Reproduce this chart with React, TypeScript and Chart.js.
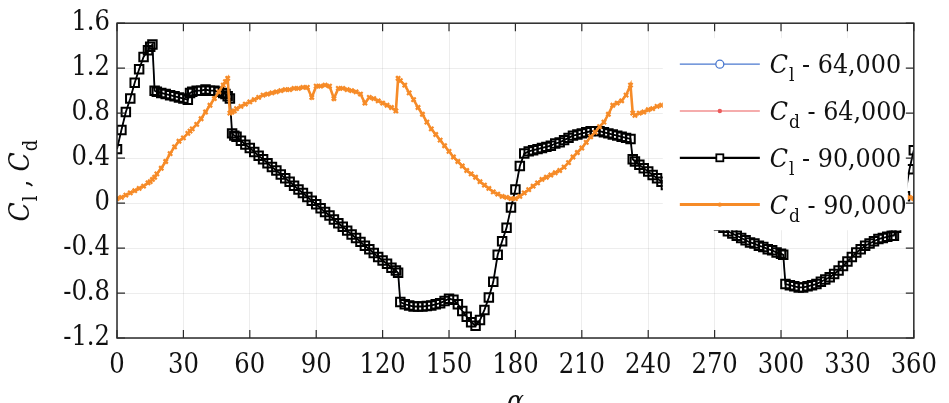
import React, { useEffect, useRef } from 'react';
import { Chart, registerables } from 'chart.js';

Chart.register(...registerables);

const FONT = '"DejaVu Serif Condensed", "DejaVu Serif", serif';

// angle of attack (deg)
const alpha = [
  0, 2, 4, 6, 8, 10, 12, 14, 15, 16, 17, 18, 20, 22, 24, 26, 28, 30, 32, 33, 34, 36, 38, 40, 42, 44, 46, 48, 49, 50, 51, 52, 53, 54,
  56, 58, 60, 62, 64, 66, 68, 70, 72, 74, 76, 78, 80, 82, 84, 86, 88, 90, 92, 94, 96, 98, 100, 102, 104, 106, 108, 110, 112, 114,
  116, 118, 120, 122, 124, 126, 127, 128, 130, 132, 134, 136, 138, 140, 142, 144, 146, 148, 150, 152, 154, 156, 158, 160, 162,
  164, 166, 168, 170, 172, 174, 176, 178, 180, 182, 184, 186, 188, 190, 192, 194, 196, 198, 200, 202, 204, 206, 208, 210, 212,
  214, 216, 218, 220, 222, 224, 226, 228, 230, 232, 233, 234, 236, 238, 240, 242, 244, 246, 248, 250, 252, 254, 256, 258, 260,
  262, 264, 266, 268, 270, 272, 274, 276, 278, 280, 282, 284, 286, 288, 290, 292, 294, 296, 298, 300, 301, 302, 304, 306, 308,
  310, 312, 314, 316, 318, 320, 322, 324, 326, 328, 330, 332, 334, 336, 338, 340, 342, 344, 346, 348, 350, 351, 352, 354, 356,
  358, 360,
];

// lift coefficient, Re = 90,000
const cl90 = [
  0.48, 0.65, 0.81, 0.93, 1.07, 1.19, 1.30, 1.36, 1.39, 1.41, 1.00, 0.99, 0.98, 0.97, 0.96, 0.95, 0.94, 0.93, 0.92, 0.98, 0.99,
  1.00, 1.00, 1.01, 1.00, 1.00, 0.99, 0.98, 0.97, 0.95, 0.93, 0.62, 0.60, 0.59,
  0.555, 0.52, 0.49, 0.455, 0.42, 0.39, 0.355, 0.32, 0.29, 0.255, 0.22, 0.19, 0.155, 0.12, 0.09, 0.055, 0.02, -0.01, -0.045,
  -0.08, -0.11, -0.145, -0.18, -0.21, -0.245, -0.28, -0.31, -0.345, -0.38, -0.41,
  -0.445, -0.48, -0.51, -0.54, -0.575, -0.60, -0.62, -0.88, -0.90, -0.91, -0.92, -0.92, -0.92, -0.915, -0.91, -0.90, -0.89,
  -0.87, -0.85, -0.86, -0.90, -0.96, -1.01, -1.06, -1.09,
  -1.04, -0.95, -0.84, -0.70, -0.46, -0.34, -0.22, -0.04, 0.12, 0.33, 0.44, 0.46, 0.47, 0.48, 0.49, 0.50, 0.51, 0.53, 0.54,
  0.56, 0.58, 0.60, 0.61, 0.62, 0.63,
  0.64, 0.64, 0.64, 0.63, 0.62, 0.61, 0.60, 0.59, 0.58, 0.57, 0.39, 0.37, 0.34, 0.31, 0.28, 0.25, 0.22, 0.19, 0.16, 0.13, 0.10,
  0.07, 0.04, 0.01, -0.02,
  -0.05, -0.08, -0.11, -0.14, -0.17, -0.20, -0.22, -0.25, -0.27, -0.29, -0.31, -0.33, -0.35, -0.36, -0.38, -0.39, -0.41, -0.42,
  -0.44, -0.45, -0.46, -0.72, -0.73, -0.74, -0.75,
  -0.75, -0.74, -0.73, -0.72, -0.70, -0.68, -0.66, -0.63, -0.60, -0.56, -0.52, -0.48, -0.44, -0.41, -0.38, -0.36, -0.34, -0.32,
  -0.31, -0.30, -0.29, -0.29, -0.22, -0.08, 0.06,
  0.30, 0.47,
];

// drag coefficient, Re = 90,000
const cd90 = [
  0.04, 0.05, 0.07, 0.09, 0.11, 0.13, 0.15, 0.18, 0.19, 0.21, 0.23, 0.26, 0.31, 0.37, 0.44, 0.50, 0.55, 0.58, 0.62, 0.64, 0.66,
  0.70, 0.75, 0.81, 0.87, 0.93, 0.99, 1.05, 1.08, 1.11, 0.80, 0.81, 0.82, 0.84,
  0.86, 0.88, 0.90, 0.92, 0.94, 0.96, 0.97, 0.98, 0.99, 1.00, 1.01, 1.01, 1.02, 1.02, 1.03, 1.03, 0.94, 1.04, 1.04, 1.05, 1.04,
  0.93, 1.02, 1.02, 1.01, 1.00, 0.99, 0.97, 0.89, 0.94,
  0.93, 0.91, 0.89, 0.87, 0.85, 0.82, 1.11, 1.09, 1.05, 0.98, 0.92, 0.85, 0.79, 0.72, 0.66, 0.61, 0.56, 0.51, 0.46, 0.41, 0.37,
  0.33, 0.29, 0.26, 0.23,
  0.19, 0.16, 0.13, 0.10, 0.08, 0.06, 0.05, 0.04, 0.04, 0.06, 0.09, 0.12, 0.15, 0.18, 0.21, 0.23, 0.25, 0.27, 0.29, 0.32, 0.36,
  0.41, 0.45, 0.49, 0.54,
  0.59, 0.63, 0.68, 0.72, 0.79, 0.87, 0.89, 0.91, 0.96, 1.05, 0.80, 0.78, 0.80, 0.81, 0.83, 0.84, 0.86, 0.87, 0.88, 0.89, 0.90,
  0.91, 0.92, 0.93, 0.94,
  0.95, 0.96, 0.97, 0.98, 0.99, 1.00, 1.00, 1.01, 1.01, 1.02, 1.02, 1.02, 1.02, 1.01, 1.01, 1.00, 0.99, 0.98, 0.97, 0.96, 0.95,
  1.08, 1.04, 0.99, 0.93,
  0.87, 0.81, 0.76, 0.71, 0.66, 0.62, 0.57, 0.53, 0.49, 0.45, 0.41, 0.37, 0.34, 0.30, 0.27, 0.24, 0.21, 0.18, 0.16, 0.14, 0.12,
  0.11, 0.10, 0.08, 0.06,
  0.05, 0.04,
];

// Re = 64,000 curves coincide with (and are hidden under) the 90,000 curves
const cl64 = cl90;
const cd64 = cd90;

const xTicks = { min: 0, max: 360, step: 30 };
const yTicks = { min: -1.2, max: 1.6, step: 0.4 };

const legendItems = [
  { sym: 'C', sub: 'l', label: ' - 64,000', color: '#4A78CF', marker: 'circle', width: 1.2 },
  { sym: 'C', sub: 'd', label: ' - 64,000', color: '#EC5B5B', marker: 'dot', width: 1.2 },
  { sym: 'C', sub: 'l', label: ' - 90,000', color: '#000000', marker: 'rect', width: 2.2 },
  { sym: 'C', sub: 'd', label: ' - 90,000', color: '#F68B28', marker: 'dot', width: 3 },
];

const pts = (ys: number[]) => alpha.map((a, i) => ({ x: a, y: ys[i] }));

function drawMarker(ctx: CanvasRenderingContext2D, kind: string, x: number, y: number, color: string) {
  ctx.save();
  ctx.strokeStyle = color;
  ctx.fillStyle = color;
  if (kind === 'circle') {
    ctx.lineWidth = 1.3;
    ctx.fillStyle = '#fff';
    ctx.beginPath();
    ctx.arc(x, y, 4, 0, Math.PI * 2);
    ctx.fill();
    ctx.stroke();
  } else if (kind === 'rect') {
    ctx.lineWidth = 1.8;
    ctx.fillStyle = '#fff';
    ctx.fillRect(x - 3.5, y - 3.5, 7, 7);
    ctx.strokeRect(x - 3.5, y - 3.5, 7, 7);
  } else {
    ctx.beginPath();
    ctx.arc(x, y, 2.2, 0, Math.PI * 2);
    ctx.fill();
  }
  ctx.restore();
}

function drawSubText(ctx: CanvasRenderingContext2D, x: number, y: number, sym: string, sub: string, rest: string, size: number) {
  ctx.textBaseline = 'alphabetic';
  ctx.textAlign = 'left';
  ctx.font = `italic ${size}px ${FONT}`;
  ctx.fillText(sym, x, y);
  x += ctx.measureText(sym).width + 1;
  const subSize = Math.round(size * 0.72);
  ctx.font = `${subSize}px ${FONT}`;
  ctx.fillText(sub, x, y + size * 0.3);
  x += ctx.measureText(sub).width;
  if (rest) {
    ctx.font = `${size}px ${FONT}`;
    ctx.fillText(rest, x, y);
    x += ctx.measureText(rest).width;
  }
  return x;
}

const decorPlugin = {
  id: 'decor',
  afterDatasetsDraw(chart: any) {
    const { ctx, chartArea } = chart;
    const left = chartArea.right - 251;
    const right = chartArea.right - 6;
    const top = chartArea.top + 15;
    const bottom = chartArea.top + 207;
    ctx.save();
    ctx.fillStyle = '#ffffff';
    ctx.fillRect(left, top, right - left, bottom - top);
    const rowH = 46.8;
    legendItems.forEach((it, i) => {
      const cy = top + 26 + i * rowH;
      const x0 = left + 17;
      const x1 = x0 + 80;
      ctx.strokeStyle = it.color;
      ctx.lineWidth = it.width;
      ctx.beginPath();
      ctx.moveTo(x0, cy);
      ctx.lineTo(x1, cy);
      ctx.stroke();
      drawMarker(ctx, it.marker, (x0 + x1) / 2, cy, it.color);
      ctx.fillStyle = '#111';
      drawSubText(ctx, x1 + 10, cy + 9, it.sym, it.sub, it.label, 26.5);
    });
    ctx.restore();
  },
  afterDraw(chart: any) {
    const { ctx, chartArea, scales } = chart;
    const xs = scales.x;
    const ys = scales.y;
    ctx.save();
    ctx.strokeStyle = '#2a2a2a';
    ctx.lineWidth = 1.5;
    ctx.strokeRect(chartArea.left, chartArea.top, chartArea.right - chartArea.left, chartArea.bottom - chartArea.top);
    const tl = 8;
    ctx.lineWidth = 1.2;
    ctx.beginPath();
    xs.ticks.forEach((t: any) => {
      const px = xs.getPixelForValue(t.value);
      ctx.moveTo(px, chartArea.bottom);
      ctx.lineTo(px, chartArea.bottom - tl);
      ctx.moveTo(px, chartArea.top);
      ctx.lineTo(px, chartArea.top + tl);
    });
    ys.ticks.forEach((t: any) => {
      const py = ys.getPixelForValue(t.value);
      ctx.moveTo(chartArea.left, py);
      ctx.lineTo(chartArea.left + tl, py);
      ctx.moveTo(chartArea.right, py);
      ctx.lineTo(chartArea.right - tl, py);
    });
    ctx.stroke();

    // y-axis title: C_l , C_d (rotated)
    ctx.fillStyle = '#111';
    ctx.translate(29, (chartArea.top + chartArea.bottom) / 2);
    ctx.rotate(-Math.PI / 2);
    ctx.font = `italic 28px ${FONT}`;
    const w1 = ctx.measureText('C').width;
    ctx.font = `20px ${FONT}`;
    const w2 = ctx.measureText('l').width + ctx.measureText('d').width;
    ctx.font = `28px ${FONT}`;
    const w3 = ctx.measureText(' , ').width;
    const total = 2 * (w1 + 1) + w2 + w3;
    let x = -total / 2;
    x = drawSubText(ctx, x, 0, 'C', 'l', ' , ', 28);
    drawSubText(ctx, x, 0, 'C', 'd', '', 28);
    ctx.setTransform(1, 0, 0, 1, 0, 0);

    // x-axis title
    ctx.font = `italic 28px ${FONT}`;
    ctx.textAlign = 'center';
    ctx.textBaseline = 'alphabetic';
    ctx.fillText('\u03b1', (chartArea.left + chartArea.right) / 2, chartArea.bottom + 72);
    ctx.restore();
  },
};

export default function App() {
  const ref = useRef<HTMLCanvasElement>(null);
  useEffect(() => {
    if (!ref.current) return;
    const chart = new Chart(ref.current, {
      type: 'line',
      data: {
        datasets: [
          {
            label: 'Cl - 64,000',
            data: pts(cl64),
            borderColor: '#4A78CF',
            borderWidth: 1,
            pointRadius: 0,
            order: 3,
          },
          {
            label: 'Cd - 64,000',
            data: pts(cd64),
            borderColor: '#EC5B5B',
            borderWidth: 1,
            pointRadius: 0,
            order: 2,
          },
          {
            label: 'Cl - 90,000',
            data: pts(cl90),
            borderColor: '#000000',
            borderWidth: 1.8,
            pointStyle: 'rect',
            pointRadius: 6,
            pointBorderWidth: 2,
            pointBorderColor: '#000000',
            pointBackgroundColor: 'rgba(0,0,0,0)',
            order: 1,
          },
          {
            label: 'Cd - 90,000',
            data: pts(cd90),
            borderColor: '#F68B28',
            borderWidth: 2.6,
            pointStyle: 'crossRot',
            pointRadius: 3,
            pointBorderWidth: 2.2,
            pointBorderColor: '#F68B28',
            pointBackgroundColor: '#F68B28',
            order: 0,
          },
        ],
      },
      options: {
        responsive: false,
        animation: false,
        devicePixelRatio: 1,
        layout: { padding: { left: 0, right: 27, top: 21, bottom: 0 } },
        plugins: { legend: { display: false }, tooltip: { enabled: false } },
        scales: {
          x: {
            type: 'linear',
            min: xTicks.min,
            max: xTicks.max,
            ticks: {
              stepSize: xTicks.step,
              autoSkip: false,
              maxRotation: 0,
              padding: 12,
              color: '#111',
              font: { family: FONT, size: 27 },
            },
            grid: { color: 'rgba(0,0,0,0.07)', drawTicks: false, lineWidth: 1 },
            border: { display: false },
            afterFit: (s: any) => {
              s.height = 65;
            },
          },
          y: {
            min: yTicks.min,
            max: yTicks.max,
            ticks: {
              stepSize: yTicks.step,
              padding: 7,
              color: '#111',
              font: { family: FONT, size: 27 },
              callback: (v: any) => (Math.abs(Number(v)) < 1e-9 ? '0' : Number(v).toFixed(1)),
            },
            grid: { color: 'rgba(0,0,0,0.07)', drawTicks: false, lineWidth: 1 },
            border: { display: false },
            afterFit: (s: any) => {
              s.width = 117;
            },
          },
        },
      },
      plugins: [decorPlugin],
    });
    return () => chart.destroy();
  }, []);
  return (
    <div style={{ position: 'fixed', left: 0, top: 0, width: 949, height: 403, background: '#fff' }}>
      <canvas ref={ref} width={949} height={403} style={{ display: 'block' }} />
    </div>
  );
}
